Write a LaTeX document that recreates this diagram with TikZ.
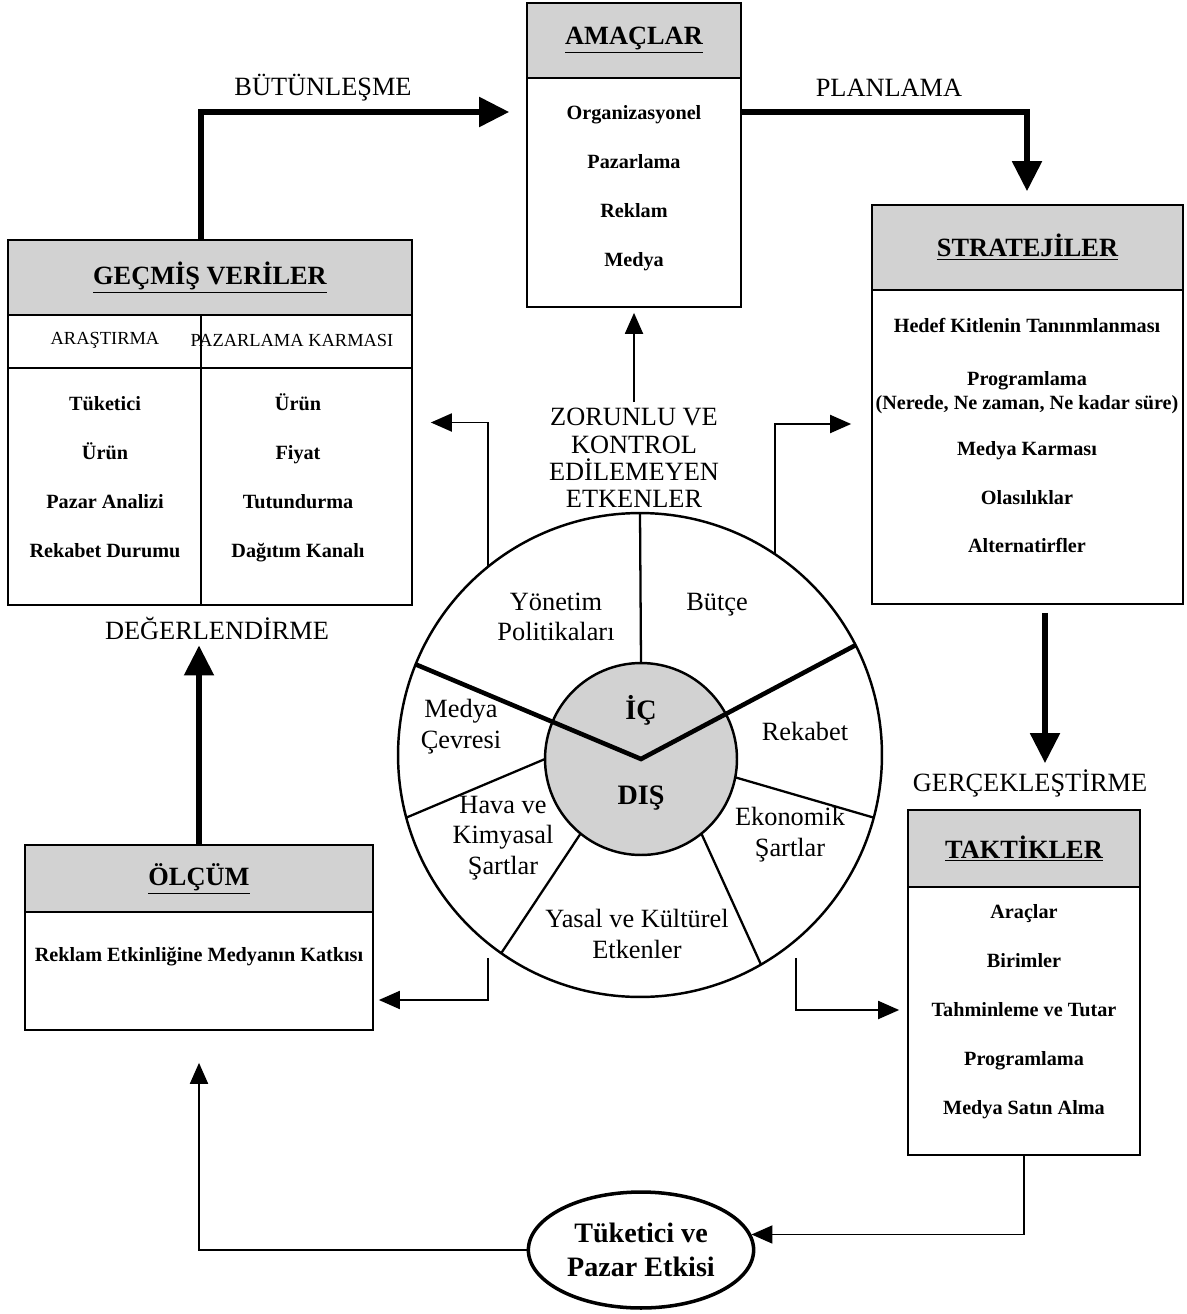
\documentclass[tikz,border=0pt]{standalone}
\usepackage{fontspec}
\setmainfont{Liberation Serif}
\usetikzlibrary{arrows.meta,positioning,calc,shapes.geometric}

\begin{document}
\begin{tikzpicture}[
    x=0.02cm, y=-0.02cm,
    box/.style={
        draw=black, line width=1pt, inner sep=0pt
    },
    head/.style={
        draw=black, line width=1pt, fill=gray!35, anchor=north,
        font=\bfseries\fontsize{15}{18}\selectfont
    },
    item/.style={
        font=\bfseries\fontsize{11.5}{13.5}\selectfont, align=center,
        text height=1.6ex, text depth=0.45ex
    },
    subhead/.style={font=\fontsize{10.5}{12}\selectfont},
    flow/.style={font=\fontsize{15}{15.5}\selectfont, align=center},
    part/.style={font=\fontsize{15}{17.5}\selectfont, align=center},
    core/.style={font=\bfseries\fontsize{16}{19}\selectfont},
    bigarrow/.style={
        -{Triangle[length=0.6cm,width=0.58cm]}, line width=3pt
    },
    arrow/.style={
        -{Triangle[length=0.42cm,width=0.36cm]}, line width=1.1pt
    }
]
\useasboundingbox (0,0) rectangle (1186,1314);

% Amaçlar
\node[box, minimum width=4.28cm, minimum height=6.08cm] (amac) at (634,155) {};
\node[head, minimum width=4.28cm, minimum height=1.5cm] (amachead) at (amac.north) {\underline{AMAÇLAR}};
\foreach \t [count=\i] in {Organizasyonel, Pazarlama, Reklam, Medya}
    \node[item] (amac\i) at (634,66+49*\i) {\t};

% Geçmiş veriler
\node[box, minimum width=8.08cm, minimum height=7.3cm] (gecmis) at (210,422.5) {};
\node[head, minimum width=8.08cm, minimum height=1.5cm] (gecmishead) at (gecmis.north) {\underline{GEÇMİŞ VERİLER}};
\coordinate (gdiv) at (201,368);
\draw[line width=1pt] (gecmis.west |- gdiv) -- (gecmis.east |- gdiv);
\draw[line width=1pt] (gecmishead.south -| gdiv) -- (gecmis.south -| gdiv);
\node[subhead] (arast) at (105,340) {ARAŞTIRMA};
\node[subhead] (pkarma) at (292,340) {PAZARLAMA KARMASI};
\foreach \t [count=\i] in {Tüketici, Ürün, Pazar Analizi, Rekabet Durumu}
    \node[item] (arast\i) at (105,357+49*\i) {\t};
\foreach \t [count=\i] in {Ürün, Fiyat, Tutundurma, Dağıtım Kanalı}
    \node[item] (pkarma\i) at (298,357+49*\i) {\t};

% Stratejiler
\node[box, minimum width=6.22cm, minimum height=7.98cm] (strat) at (1027.5,404.5) {};
\node[head, minimum width=6.22cm, minimum height=1.7cm] (strathead) at (strat.north) {\underline{STRATEJİLER}};
\node[item] (strat1) at (1027,328) {Hedef Kitlenin Tanınmlanması};
\node[item] (strat2) at (1027,405) {Programlama\\(Nerede, Ne zaman, Ne kadar süre)};
\node[item] (strat3) at (1027,451) {Medya Karması};
\node[item] (strat4) at (1027,500) {Olasılıklar};
\node[item] (strat5) at (1027,548) {Alternatirfler};

% Ölçüm
\node[box, minimum width=6.96cm, minimum height=3.7cm] (olcum) at (199,937.5) {};
\node[head, minimum width=6.96cm, minimum height=1.34cm] (olcumhead) at (olcum.north) {\underline{ÖLÇÜM}};
\node[item] (olcum1) at (199,957) {Reklam Etkinliğine Medyanın Katkısı};

% Taktikler
\node[box, minimum width=4.64cm, minimum height=6.9cm] (taktik) at (1024,982.5) {};
\node[head, minimum width=4.64cm, minimum height=1.54cm] (taktikhead) at (taktik.north) {\underline{TAKTİKLER}};
\foreach \t [count=\i] in {Araçlar, Birimler, Tahminleme ve Tutar, Programlama, Medya Satın Alma}
    \node[item] (taktik\i) at (1024,865+49*\i) {\t};

% Tüketici ve pazar etkisi
\node[ellipse, draw, line width=2pt, minimum width=3.92cm, minimum height=2.32cm,
    font=\bfseries\fontsize{16}{19}\selectfont, align=center] (tuk) at (641,1250) {Tüketici ve\\Pazar Etkisi};

% Etkenler dairesi
\node[circle, draw, line width=1.4pt, minimum size=9.68cm, inner sep=0pt, outer sep=0pt] (wheel) at (640,755) {};
\node[circle, draw, line width=1.4pt, fill=gray!35, minimum size=3.84cm, inner sep=0pt, outer sep=0pt] (core) at (641,759) {};
\draw[line width=1.3pt] (core.90) -- (wheel.90);
\draw[line width=2.6pt] (wheel.158) -- (core.center) -- (wheel.27);
\draw[line width=1.3pt] (core.180) -- (wheel.195);
\draw[line width=1.3pt] (core.231) -- (wheel.235);
\draw[line width=1.3pt] (core.309) -- (wheel.300);
\draw[line width=1.3pt] (core.349) -- (wheel.345);

\node[part] (yon) at (556,617) {Yönetim\\Politikaları};
\node[part] (butce) at (717,605) {Bütçe};
\node[part] (medcev) at (461,727) {Medya\\Çevresi};
\node[part] (rekabet) at (805,731) {Rekabet};
\node[core] (ic) at (641,710) {İÇ};
\node[core] (dis) at (641,798) {DIŞ};
\node[part] (hava) at (503,838) {Hava ve\\Kimyasal\\Şartlar};
\node[part] (ekon) at (790,835) {Ekonomik\\Şartlar};
\node[part] (yasal) at (637,934) {Yasal ve Kültürel\\Etkenler};

% Akış etiketleri
\node[flow] (butun) at (323,88) {BÜTÜNLEŞME};
\node[flow] (plan) at (889,88) {PLANLAMA};
\node[flow] (degr) at (217,628) {DEĞERLENDİRME};
\node[flow] (gercek) at (1030,783) {GERÇEKLEŞTİRME};
\node[flow] (zorunlu) at (634,458) {ZORUNLU VE\\KONTROL\\EDİLEMEYEN\\ETKENLER};

% Kalın oklar
\coordinate (bt) at (201,112);
\draw[bigarrow, shorten >=0.34cm] (gecmis.north -| bt) -- (bt) -- (bt -| amac.west);
\coordinate (pl) at (1027,112);
\draw[bigarrow, shorten >=0.26cm] (amac.east |- pl) -- (pl) -- (strat.north -| pl);
\coordinate (sg) at (1045,612);
\draw[bigarrow, shorten <=0.16cm] (strat.south -| sg) -- (gercek.north -| sg);
\draw[bigarrow] (olcum.north) -- (olcum.north |- degr.south);

% İnce oklar
\draw[arrow, shorten >=0.1cm] (zorunlu.north) -- (amac.south);
\draw[arrow, shorten >=0.36cm] (wheel.129) |- (gecmis.east);
\draw[arrow, shorten >=0.4cm] (wheel.56) |- ([yshift=-0.39cm]strat.west);
\draw[arrow, shorten <=0.3cm, shorten >=0.1cm] (wheel.231) |- ([yshift=-1.25cm]olcum.east);
\draw[arrow, shorten <=0.35cm, shorten >=0.16cm] (wheel.310) |- ([yshift=-0.55cm]taktik.west);
\draw[arrow] (taktik.south) |- (tuk.8);
\draw[arrow, shorten >=0.64cm] (tuk.west) -| (olcum.south);

\end{tikzpicture}
\end{document}
